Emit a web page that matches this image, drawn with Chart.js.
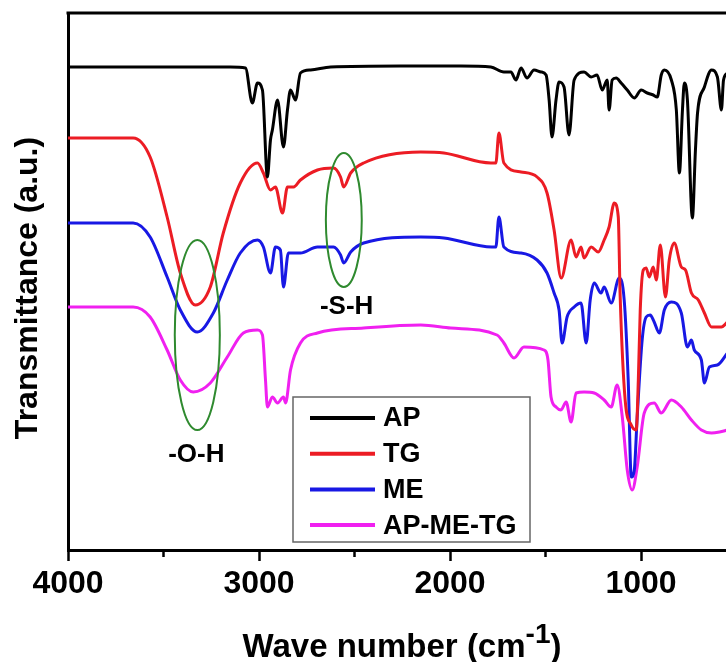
<!DOCTYPE html>
<html>
<head>
<meta charset="utf-8">
<title>FTIR spectra</title>
<script src="https://cdn.jsdelivr.net/npm/chart.js@4.4.0/dist/chart.umd.min.js"></script>
<style>
  html, body { margin: 0; padding: 0; background: #fff; }
  canvas { display: block; }
</style>
</head>
<body>
<canvas id="ftirChart" width="726" height="662"></canvas>
<script>
// wavenumber (cm-1) / transmittance (a.u., traces offset)
const apWave = [4000, 3570, 3150, 3071, 3035, 3008, 2982, 2956, 2940, 2930,
  2903, 2872, 2851, 2835, 2809, 2783, 2730, 2625, 2258, 1943,
  1786, 1718, 1681, 1655, 1628, 1597, 1560, 1523, 1497, 1481,
  1466, 1445, 1429, 1403, 1377, 1350, 1298, 1261, 1230, 1203,
  1177, 1167, 1151, 1130, 1104, 1072, 1035, 999, 967, 936,
  915, 894, 878, 841, 815, 799, 783, 773, 757, 731,
  715, 704, 668, 631, 600, 579, 568, 547];
const apT = [483, 483, 483, 482, 447, 467, 460, 373, 410, 420,
  450, 403, 440, 460, 450, 477, 480, 483, 484, 484,
  483, 478, 478, 470, 482, 472, 480, 478, 475, 450,
  413, 450, 468, 463, 415, 470, 478, 473, 475, 460,
  470, 440, 470, 472, 467, 460, 452, 460, 457, 455,
  453, 475, 480, 470, 440, 377, 440, 467, 450, 332,
  400, 437, 463, 480, 473, 440, 470, 477];

const tgWave = [4000, 3659, 3570, 3481, 3412, 3334, 3255, 3187, 3098, 3008,
  2977, 2940, 2914, 2877, 2851, 2819, 2783, 2694, 2610, 2573,
  2557, 2520, 2452, 2153, 2032, 1786, 1760, 1744, 1718, 1628,
  1544, 1492, 1455, 1418, 1366, 1340, 1314, 1298, 1261, 1224,
  1193, 1167, 1140, 1119, 1109, 1083, 1051, 1025, 1014, 1004,
  988, 973, 957, 936, 920, 899, 872, 852, 826, 789,
  767, 736, 700, 668, 631, 579, 547];
const tgT = [412, 412, 393, 333, 277, 245, 263, 317, 367, 387,
  377, 360, 363, 337, 363, 363, 370, 380, 382, 373,
  363, 377, 387, 398, 397, 387, 387, 417, 387, 378,
  373, 357, 320, 272, 310, 293, 303, 292, 303, 298,
  310, 323, 347, 333, 253, 150, 125, 120, 170, 240,
  280, 282, 273, 283, 270, 305, 253, 290, 307, 283,
  280, 257, 250, 237, 223, 223, 228];

const meWave = [4000, 3659, 3570, 3481, 3412, 3323, 3239, 3166, 3098, 3008,
  2977, 2940, 2914, 2888, 2872, 2846, 2783, 2694, 2610, 2573,
  2557, 2520, 2452, 2153, 2032, 1781, 1760, 1744, 1718, 1628,
  1544, 1492, 1455, 1429, 1413, 1387, 1350, 1314, 1287, 1266,
  1245, 1209, 1193, 1156, 1114, 1088, 1067, 1051, 1035, 1020,
  994, 973, 952, 931, 904, 878, 841, 789, 757, 736,
  721, 684, 668, 642, 600, 547];
const meT = [327, 327, 313, 273, 240, 218, 237, 270, 297, 310,
  303, 277, 303, 300, 263, 297, 297, 303, 303, 295,
  287, 298, 307, 313, 312, 303, 303, 333, 303, 297,
  290, 277, 257, 240, 207, 233, 243, 247, 207, 250,
  267, 257, 263, 247, 272, 250, 170, 73, 80, 133,
  210, 233, 235, 228, 217, 240, 248, 237, 203, 210,
  200, 190, 167, 183, 185, 197];

const mixWave = [4000, 3659, 3570, 3481, 3412, 3344, 3255, 3166, 3082, 3008,
  2982, 2966, 2956, 2930, 2903, 2872, 2861, 2835, 2783, 2694,
  2452, 2153, 1996, 1754, 1718, 1665, 1613, 1508, 1487, 1471,
  1445, 1419, 1392, 1366, 1340, 1298, 1245, 1193, 1156, 1125,
  1098, 1072, 1046, 1020, 983, 931, 894, 841, 789, 736,
  684, 631, 589, 547];
const mixT = [243, 243, 233, 200, 170, 158, 167, 193, 217, 220,
  215, 170, 143, 153, 147, 153, 147, 180, 207, 217,
  222, 225, 222, 215, 207, 192, 203, 200, 190, 153,
  143, 140, 148, 128, 157, 158, 157, 150, 143, 165,
  133, 80, 60, 83, 137, 147, 137, 150, 143, 130,
  120, 117, 118, 120];

const seriesLabels = ['AP', 'TG', 'ME', 'AP-ME-TG'];
const seriesColors = ['#000000', '#ec1c24', '#1818e4', '#f020f0'];
const majorTicks = [4000, 3000, 2000, 1000];
const minorTicks = [3500, 2500, 1500];

// band annotations: label position and green ring (centre + half sizes, data units)
const bandLabels = ['-O-H', '-S-H'];
const bandLabelWave = [3328, 2541];
const bandLabelT = [95, 243];
const ringWave = [3323, 2556];
const ringT = [215, 330];
const ringHalfWave = [118, 94];
const ringHalfT = [95, 67];

function pairs(w, t) {
  return w.map((x, i) => ({ x: x, y: t[i] }));
}

const FONT = '"Liberation Sans", Arial, sans-serif';

const decor = {
  id: 'decor',
  afterDatasetsDraw(chart) {
    const ctx = chart.ctx;
    const xs = chart.scales.x;
    const ys = chart.scales.y;
    ctx.save();
    // green rings
    ctx.strokeStyle = '#2f8a2f';
    ctx.lineWidth = 2;
    ringWave.forEach((w, i) => {
      const cx = xs.getPixelForValue(w);
      const cy = ys.getPixelForValue(ringT[i]);
      const rx = Math.abs(xs.getPixelForValue(w + ringHalfWave[i]) - cx);
      const ry = Math.abs(ys.getPixelForValue(ringT[i] + ringHalfT[i]) - cy);
      ctx.beginPath();
      ctx.ellipse(cx, cy, rx, ry, 0, 0, Math.PI * 2);
      ctx.stroke();
    });
    // band labels
    ctx.fillStyle = '#000';
    ctx.font = 'bold 26px ' + FONT;
    ctx.textAlign = 'center';
    ctx.textBaseline = 'middle';
    bandLabels.forEach((txt, i) => {
      ctx.fillText(txt, xs.getPixelForValue(bandLabelWave[i]), ys.getPixelForValue(bandLabelT[i]));
    });
    ctx.restore();
  },
  afterDraw(chart) {
    const ctx = chart.ctx;
    const area = chart.chartArea;
    const xs = chart.scales.x;
    ctx.save();
    // top frame line
    ctx.strokeStyle = '#000';
    ctx.lineWidth = 3;
    ctx.beginPath();
    ctx.moveTo(area.left - 1.5, area.top);
    ctx.lineTo(area.right, area.top);
    ctx.stroke();
    // minor ticks
    ctx.lineWidth = 2.5;
    minorTicks.forEach(v => {
      const px = xs.getPixelForValue(v);
      ctx.beginPath();
      ctx.moveTo(px, area.bottom);
      ctx.lineTo(px, area.bottom + 7);
      ctx.stroke();
    });
    // x title with superscript
    ctx.fillStyle = '#000';
    ctx.textBaseline = 'alphabetic';
    ctx.textAlign = 'left';
    const mainFont = 'bold 33px ' + FONT;
    const supFont = 'bold 28px ' + FONT;
    ctx.font = mainFont;
    const t1 = 'Wave number (cm';
    const w1 = ctx.measureText(t1).width;
    const w3 = ctx.measureText(')').width;
    ctx.font = supFont;
    const w2 = ctx.measureText('-1').width;
    const x0 = 402 - (w1 + w2 + w3) / 2;
    const base = 657;
    ctx.font = mainFont;
    ctx.fillText(t1, x0, base);
    ctx.font = supFont;
    ctx.fillText('-1', x0 + w1, base - 14);
    ctx.font = mainFont;
    ctx.fillText(')', x0 + w1 + w2, base);
    // y title
    ctx.save();
    ctx.translate(28, 288);
    ctx.rotate(-Math.PI / 2);
    ctx.textAlign = 'center';
    ctx.textBaseline = 'middle';
    ctx.font = 'bold 32px ' + FONT;
    ctx.fillText('Transmittance (a.u.)', 0, 0);
    ctx.restore();
    // legend box
    const box = { left: 293, top: 397, right: 530, bottom: 542 };
    ctx.fillStyle = '#fff';
    ctx.fillRect(box.left, box.top, box.right - box.left, box.bottom - box.top);
    ctx.strokeStyle = '#666';
    ctx.lineWidth = 1.5;
    ctx.strokeRect(box.left, box.top, box.right - box.left, box.bottom - box.top);
    ctx.font = 'bold 27px ' + FONT;
    ctx.textBaseline = 'middle';
    ctx.textAlign = 'left';
    chart.data.datasets.forEach((ds, i) => {
      const y = 418 + i * 35.7;
      ctx.strokeStyle = ds.borderColor;
      ctx.lineWidth = 4;
      ctx.beginPath();
      ctx.moveTo(310, y);
      ctx.lineTo(375, y);
      ctx.stroke();
      ctx.fillStyle = '#000';
      ctx.fillText(ds.label, 383, y + 1);
    });
    ctx.restore();
  }
};

const allWaves = [apWave, tgWave, meWave, mixWave];
const allT = [apT, tgT, meT, mixT];

new Chart(document.getElementById('ftirChart'), {
  type: 'line',
  data: {
    datasets: seriesLabels.map((label, i) => ({
      label: label,
      data: pairs(allWaves[i], allT[i]),
      borderColor: seriesColors[i],
      borderWidth: 3,
      pointRadius: 0,
      fill: false,
      cubicInterpolationMode: 'monotone'
    }))
  },
  options: {
    responsive: false,
    animation: false,
    layout: { padding: { top: 13, right: 0, left: 0, bottom: 0 } },
    plugins: {
      legend: { display: false },
      tooltip: { enabled: false }
    },
    scales: {
      x: {
        type: 'linear',
        reverse: true,
        min: 555,
        max: 4000,
        afterFit: scale => { scale.height = 112; },
        afterBuildTicks: scale => { scale.ticks = majorTicks.map(v => ({ value: v })); },
        border: { display: true, color: '#000', width: 3 },
        grid: { display: true, drawOnChartArea: false, drawTicks: true, tickLength: 11, tickWidth: 2.5, color: '#000', tickColor: '#000' },
        ticks: {
          autoSkip: false,
          maxRotation: 0,
          padding: 4,
          color: '#000',
          font: { family: FONT, size: 32, weight: 'bold' },
          callback: v => String(v)
        }
      },
      y: {
        min: 0,
        max: 537,
        afterFit: scale => { scale.width = 68; },
        border: { display: true, color: '#000', width: 3 },
        grid: { display: false },
        ticks: { display: false }
      }
    }
  },
  plugins: [decor]
});
</script>
</body>
</html>
